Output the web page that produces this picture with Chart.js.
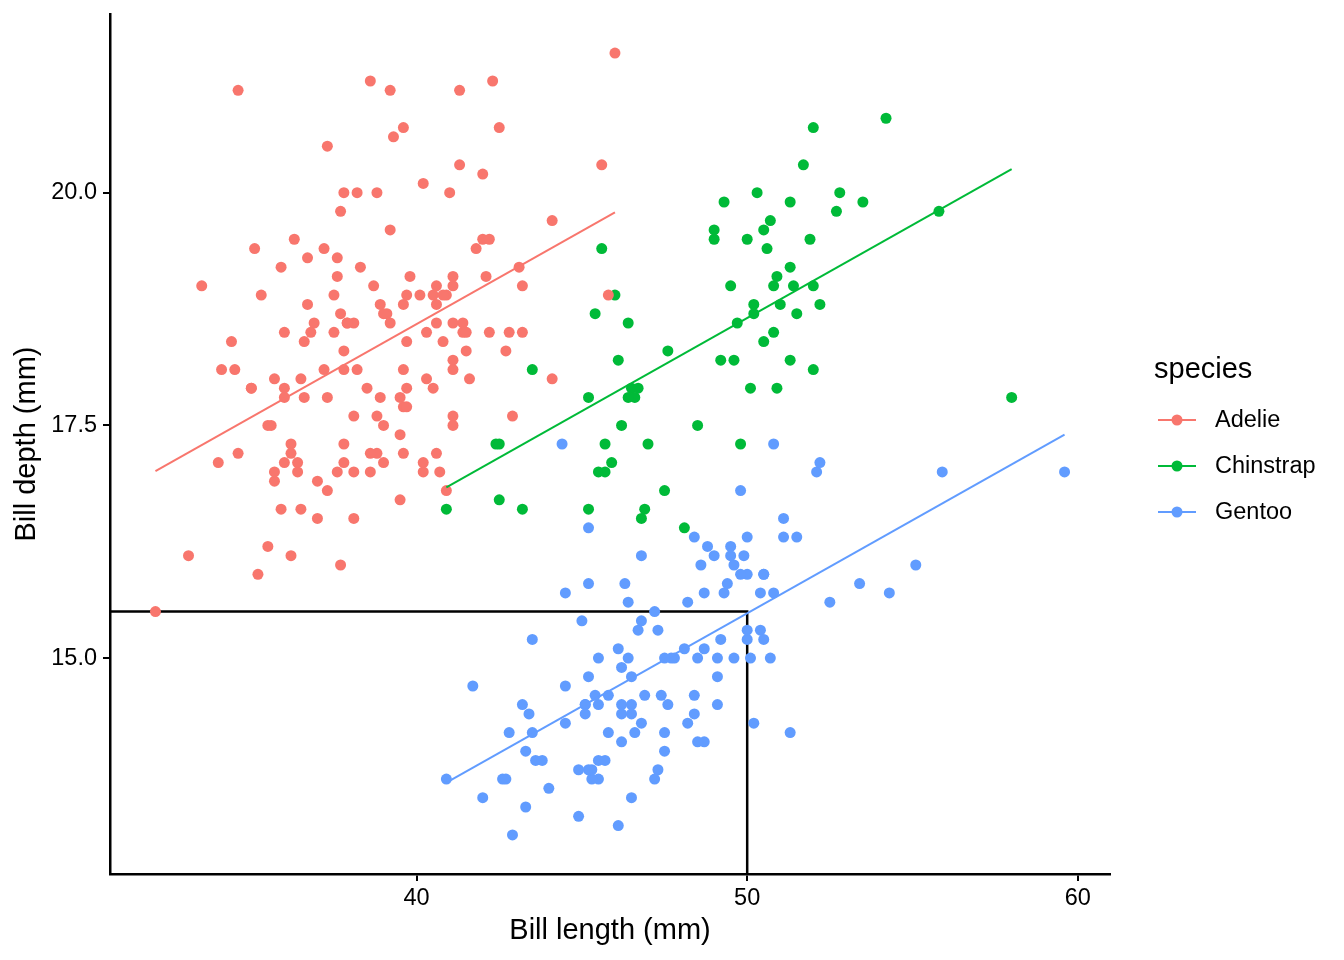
<!DOCTYPE html>
<html>
<head>
<meta charset="utf-8">
<script src="https://cdn.jsdelivr.net/npm/chart.js@4/dist/chart.umd.min.js"></script>
<style>
  body { margin: 0; background: #fff; }
  #wrap { width: 1344px; height: 960px; }
</style>
</head>
<body>
<div id="wrap"><canvas id="chart"></canvas></div>
<script>
// Bill length / depth per species (mm)
const adelieLength = [39.1,39.5,40.3,36.7,39.3,38.9,39.2,34.1,42.0,37.8,37.8,41.1,38.6,34.6,36.6,38.7,42.5,34.4,46.0,37.8,37.7,35.9,38.2,38.8,35.3,40.6,40.5,37.9,40.5,39.5,37.2,39.5,40.9,36.4,39.2,38.8,42.2,37.6,39.8,36.5,40.8,36.0,44.1,37.0,39.6,41.1,37.5,36.0,42.3,39.6,40.1,35.0,42.0,34.5,41.4,39.0,40.6,36.5,37.6,35.7,41.3,37.6,41.1,36.4,41.6,35.5,41.1,35.9,41.8,33.5,39.7,39.6,45.8,35.5,42.8,40.9,37.2,36.2,42.1,34.6,42.9,36.7,35.1,37.3,41.3,36.3,36.9,38.3,38.9,35.7,41.1,34.0,39.6,36.2,40.8,38.1,40.3,33.1,43.2,35.0,41.0,37.7,37.8,37.9,39.7,38.6,38.2,38.1,43.2,38.1,45.6,39.7,42.2,39.6,42.7,38.6,37.3,35.7,41.1,36.2,37.7,40.2,41.4,35.2,40.6,38.8,41.5,39.0,44.1,38.5,43.1,36.8,37.5,38.1,41.1,35.6,40.2,37.0,39.7,40.2,40.6,32.1,40.7,37.3,39.0,39.2,36.6,36.0,37.8,36.0,41.5];
const adelieDepth = [18.7,17.4,18.0,19.3,20.6,17.8,19.6,18.1,20.2,17.1,17.3,17.6,21.2,21.1,17.8,19.0,20.7,18.4,21.5,18.3,18.7,19.2,18.1,17.2,18.9,18.6,17.9,18.6,18.9,16.7,18.1,17.8,18.9,17.0,21.1,20.0,18.5,19.3,19.1,18.0,18.4,18.5,19.7,16.9,18.8,19.0,18.9,17.9,21.2,17.7,18.9,17.9,19.5,18.1,18.6,17.5,18.8,16.6,19.1,16.9,21.1,17.0,18.2,17.1,18.0,16.2,19.1,16.6,19.4,19.0,18.4,17.2,18.9,17.5,18.5,16.8,19.4,16.1,19.1,17.2,17.6,18.8,19.4,17.8,20.3,19.5,18.6,19.2,18.8,18.0,18.1,17.1,18.1,17.3,18.9,18.6,18.5,16.1,18.5,17.9,20.0,16.0,20.0,18.6,18.9,17.2,20.0,17.0,19.0,16.5,20.3,17.7,19.5,20.7,18.3,17.0,20.5,17.0,18.6,17.2,19.8,17.0,18.5,15.9,19.0,17.6,18.3,17.1,18.0,17.9,19.2,18.5,18.5,17.6,17.5,17.5,20.1,16.5,17.9,17.1,17.2,15.5,17.0,16.8,18.7,18.6,18.4,17.8,18.1,17.1,18.5];

const chinstrapLength = [46.5,50.0,51.3,45.4,52.7,45.2,46.1,51.3,46.0,51.3,46.6,51.7,47.0,52.0,45.9,50.5,50.3,58.0,46.4,49.2,42.4,48.5,43.2,50.6,46.7,52.0,50.5,49.5,46.4,52.8,40.9,54.2,42.5,51.0,49.7,47.5,47.6,52.0,46.9,53.5,49.0,46.2,50.9,45.5,50.9,50.8,50.1,49.0,51.5,49.8,48.1,51.4,45.7,50.7,42.5,52.2,45.2,49.3,50.2,45.6,51.9,46.8,45.7,55.8,43.5,49.6,50.8,50.2];
const chinstrapDepth = [17.9,19.5,19.2,18.7,19.8,17.8,18.2,18.2,18.9,19.9,17.8,20.3,17.3,18.1,17.1,19.6,20.0,17.8,18.6,18.2,17.3,17.5,16.6,19.4,17.9,19.0,18.4,19.0,17.8,20.0,16.6,20.8,16.7,18.8,18.6,16.8,18.3,20.7,16.6,19.9,19.5,17.5,19.1,17.0,17.9,18.5,17.9,19.6,18.7,17.3,16.4,19.0,17.3,19.7,17.3,18.8,16.6,19.9,18.8,19.4,19.5,16.5,17.0,19.8,18.1,18.2,19.0,18.7];

const gentooLength = [46.1,50.0,48.7,50.0,47.6,46.5,45.4,46.7,43.3,46.8,40.9,49.0,45.5,48.4,45.8,49.3,42.0,49.2,46.2,48.7,50.2,45.1,46.5,46.3,42.9,46.1,44.5,47.8,48.2,50.0,47.3,42.8,45.1,59.6,49.1,48.4,42.6,44.4,44.0,48.7,42.7,49.6,45.3,49.6,50.5,43.6,45.5,50.5,44.9,45.2,46.6,48.5,45.1,50.1,46.5,45.0,43.8,45.5,43.2,50.4,45.3,46.2,45.7,54.3,45.8,49.8,46.2,49.5,43.5,50.7,47.7,46.4,48.2,46.5,46.4,48.6,47.5,51.1,45.2,45.2,49.1,52.5,47.4,50.0,44.9,50.8,43.4,51.3,47.5,52.1,47.5,52.2,45.5,49.5,44.5,50.8,49.4,46.9,48.4,51.1,48.5,55.9,47.2,49.1,47.3,46.8,41.7,53.4,43.3,48.1,50.5,49.8,43.5,51.5,46.2,55.1,44.5,48.8,47.2,46.8,50.4,45.2,49.9];
const gentooDepth = [13.2,16.3,14.1,15.2,14.5,13.5,14.6,15.3,13.4,15.4,13.7,16.1,13.7,14.6,14.6,15.7,13.5,15.2,14.5,15.1,14.3,14.5,14.5,15.8,13.1,15.1,14.3,15.0,14.3,15.3,15.3,14.2,14.5,17.0,14.8,16.3,13.7,17.3,13.6,15.7,13.7,16.0,13.7,15.0,15.9,13.9,13.9,15.9,13.3,15.8,14.2,14.1,14.4,15.0,14.4,15.4,13.9,15.0,14.5,15.3,13.8,14.9,13.9,15.7,14.2,16.8,14.4,16.2,14.2,15.0,15.0,15.6,15.6,14.8,15.0,16.0,14.2,16.3,13.8,16.4,14.5,15.6,14.6,15.9,13.8,17.3,14.4,14.2,14.0,17.0,15.0,17.1,14.5,16.1,14.7,15.7,15.8,14.6,14.4,16.5,15.0,17.0,15.5,15.0,13.8,16.1,14.7,15.8,14.0,15.1,15.2,15.9,15.2,16.3,14.1,16.0,15.7,16.2,13.7,14.3,15.7,14.8,16.1];

const speciesNames = ['Adelie', 'Chinstrap', 'Gentoo'];
const speciesColors = ['#F8766D', '#00BA38', '#619CFF'];

// the boxed corner
const boxLength = 50;
const boxDepth = 15.5;

const xTicks = [40, 50, 60];
const yTicks = [15.0, 17.5, 20.0];

const FONT = '"Liberation Sans", Arial, Helvetica, sans-serif';

function toPoints(xs, ys) {
    return xs.map((x, i) => ({ x: x, y: ys[i] }));
}

function mean(a) {
    return a.reduce((s, v) => s + v, 0) / a.length;
}

const groups = [
    [adelieLength, adelieDepth],
    [chinstrapLength, chinstrapDepth],
    [gentooLength, gentooDepth]
];

// parallel slopes model: one shared slope, own intercept per species
let sxy = 0, sxx = 0;
groups.forEach(g => {
    const mx = mean(g[0]), my = mean(g[1]);
    g[0].forEach((x, i) => {
        sxy += (x - mx) * (g[1][i] - my);
        sxx += (x - mx) * (x - mx);
    });
});
const slope = sxy / sxx;

function fitLine(xs, ys) {
    const icpt = mean(ys) - slope * mean(xs);
    const lo = Math.min(...xs), hi = Math.max(...xs);
    return [{ x: lo, y: icpt + slope * lo }, { x: hi, y: icpt + slope * hi }];
}

const allX = adelieLength.concat(chinstrapLength, gentooLength);
const allY = adelieDepth.concat(chinstrapDepth, gentooDepth);
const xLo = Math.min(...allX), xHi = Math.max(...allX);
const yLo = Math.min(...allY), yHi = Math.max(...allY);
const xMin = xLo - (xHi - xLo) * 0.05, xMax = xHi + (xHi - xLo) * 0.05;
const yMin = yLo - (yHi - yLo) * 0.05, yMax = yHi + (yHi - yLo) * 0.05;

const fitSets = groups.map((g, i) => ({
    type: 'line',
    data: fitLine(g[0], g[1]),
    borderColor: speciesColors[i],
    borderWidth: 2,
    pointRadius: 0,
    fill: false
}));

const pointSets = groups.map((g, i) => ({
    type: 'scatter',
    label: speciesNames[i],
    data: toPoints(g[0], g[1]),
    backgroundColor: speciesColors[i],
    borderWidth: 0,
    pointRadius: 5.5
}));

const boxSet = {
    type: 'line',
    data: [{ x: xMin, y: boxDepth }, { x: boxLength, y: boxDepth }, { x: boxLength, y: yMin }],
    borderColor: '#000',
    borderWidth: 2.5,
    pointRadius: 0,
    fill: false,
    clip: false
};

// ggplot style legend on the right
const legendPlugin = {
    id: 'speciesLegend',
    afterDraw(chart) {
        const ctx = chart.ctx;
        ctx.save();
        ctx.fillStyle = '#000';
        ctx.textAlign = 'left';
        ctx.textBaseline = 'middle';
        ctx.font = '29px ' + FONT;
        ctx.fillText('species', 1154, 370);
        ctx.font = '23.5px ' + FONT;
        speciesNames.forEach((name, i) => {
            const y = 420 + i * 46;
            ctx.strokeStyle = speciesColors[i];
            ctx.lineWidth = 2;
            ctx.beginPath();
            ctx.moveTo(1158, y);
            ctx.lineTo(1196, y);
            ctx.stroke();
            ctx.fillStyle = speciesColors[i];
            ctx.beginPath();
            ctx.arc(1177, y, 5.5, 0, Math.PI * 2);
            ctx.fill();
            ctx.fillStyle = '#000';
            ctx.fillText(name, 1215, y + 1);
        });
        ctx.restore();
    }
};

const ctx = document.getElementById('chart').getContext('2d');

const chart = new Chart(ctx, {
    type: 'scatter',
    data: {
        datasets: fitSets.concat(pointSets, [boxSet])
    },
    options: {
        responsive: true,
        maintainAspectRatio: false,
        animation: false,
        layout: {
            padding: { top: 14, right: 234, left: 0, bottom: 0 }
        },
        plugins: {
            legend: { display: false },
            tooltip: { enabled: false }
        },
        scales: {
            x: {
                type: 'linear',
                min: xMin,
                max: xMax,
                afterBuildTicks: (scale) => { scale.ticks = xTicks.map(v => ({ value: v })); },
                afterFit: (scale) => {
                    scale.height = 86;
                    scale.paddingLeft = 0;
                    scale.paddingRight = 0;
                },
                grid: { display: true, drawOnChartArea: false, drawTicks: true, tickLength: 7, color: '#000', lineWidth: 2 },
                border: { display: true, color: '#000', width: 2.5 },
                ticks: {
                    color: '#000',
                    font: { family: FONT, size: 23.5 },
                    padding: 3,
                    maxRotation: 0,
                    callback: (v) => v
                },
                title: {
                    display: true,
                    text: 'Bill length (mm)',
                    color: '#000',
                    font: { family: FONT, size: 29 },
                    padding: { top: 0, bottom: 12 }
                }
            },
            y: {
                type: 'linear',
                min: yMin,
                max: yMax,
                afterBuildTicks: (scale) => { scale.ticks = yTicks.map(v => ({ value: v })); },
                afterFit: (scale) => {
                    scale.width = 110;
                    scale.paddingTop = 0;
                    scale.paddingBottom = 0;
                },
                grid: { display: true, drawOnChartArea: false, drawTicks: true, tickLength: 7, color: '#000', lineWidth: 2 },
                border: { display: true, color: '#000', width: 2.5 },
                ticks: {
                    color: '#000',
                    font: { family: FONT, size: 23.5 },
                    padding: 6,
                    callback: (v) => v.toFixed(1)
                },
                title: {
                    display: true,
                    text: 'Bill depth (mm)',
                    color: '#000',
                    font: { family: FONT, size: 29 },
                    padding: { top: 10, bottom: 0 }
                }
            }
        }
    },
    plugins: [legendPlugin]
});
</script>
</body>
</html>
